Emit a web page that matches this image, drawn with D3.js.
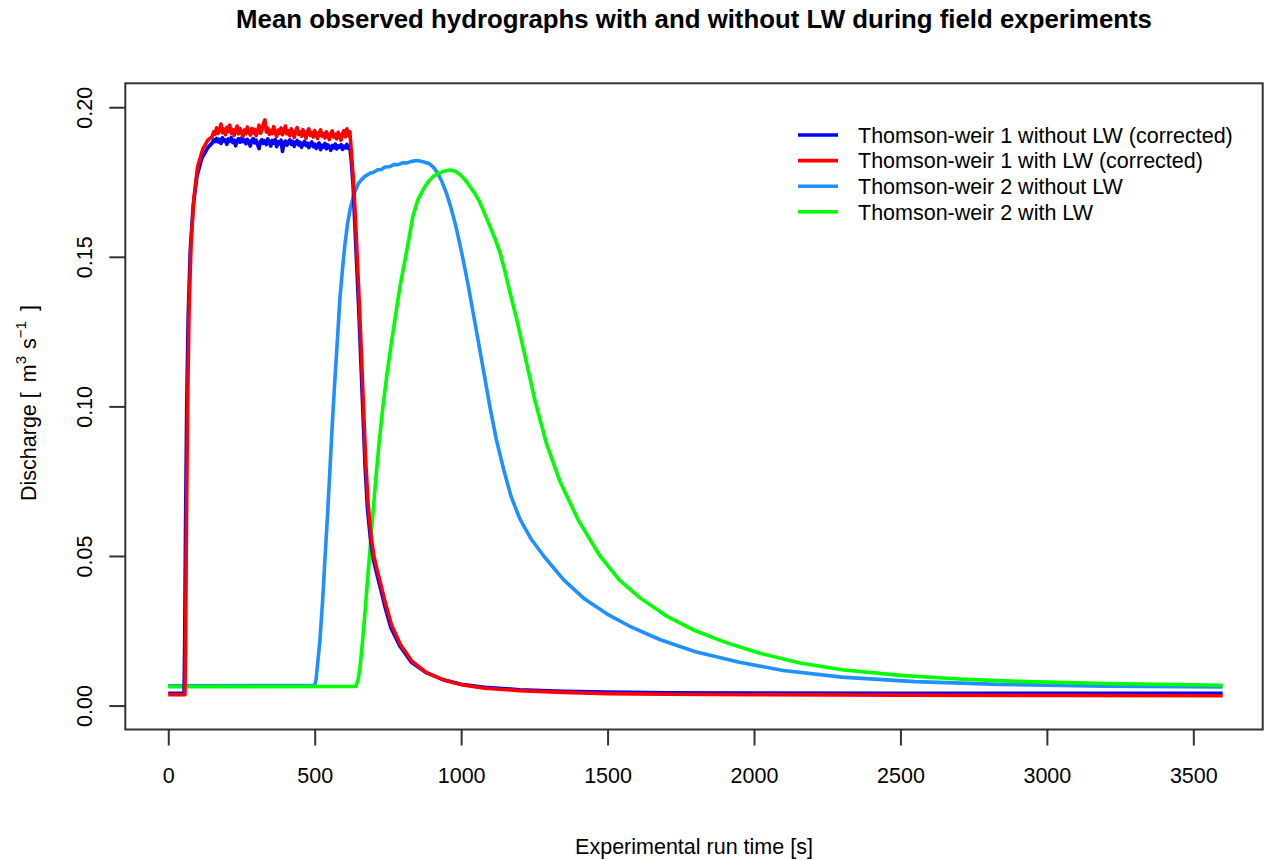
<!DOCTYPE html>
<html><head><meta charset="utf-8">
<script src="https://cdn.jsdelivr.net/npm/d3@7"></script>
<style>
body{margin:0;background:#fff}
svg{display:block}
text{font-family:"Liberation Sans",Arial,Helvetica,sans-serif;fill:#000}
</style>
</head><body>
<svg id="chart" width="1264" height="860"></svg>
<script>
// ---------------- data ----------------
const chartTitle = "Mean observed hydrographs with and without LW during field experiments";
const xAxisTitle = "Experimental run time [s]";
const xTickValues = [0, 500, 1000, 1500, 2000, 2500, 3000, 3500];
const yTickValues = [0.00, 0.05, 0.10, 0.15, 0.20];
const yTickLabels = ["0.00", "0.05", "0.10", "0.15", "0.20"];
const seriesNames = [
  "Thomson-weir 1 without LW (corrected)",
  "Thomson-weir 1 with LW (corrected)",
  "Thomson-weir 2 without LW",
  "Thomson-weir 2 with LW"
];

// [time s, discharge m3/s]
const tw1WithoutLW = [
  [0,0.0041],[54,0.0041],[56,0.020],[59,0.060],[63,0.100],[68,0.130],[75,0.152],[85,0.167],[98,0.177],[115,0.183],[135,0.1865],
  [150,0.1880],[155,0.1892],[160,0.1885],[165,0.1896],[170,0.1884],[175,0.1893],[180,0.1879],[185,0.1898],[190,0.1887],[195,0.1891],
  [200,0.1876],[205,0.1894],[210,0.1886],[215,0.1899],[220,0.1882],[225,0.1890],[230,0.1871],[235,0.1888],[240,0.1895],[245,0.1883],
  [250,0.1897],[255,0.1885],[260,0.1891],[265,0.1878],[270,0.1893],[275,0.1884],[280,0.1870],[285,0.1889],[290,0.1895],[295,0.1881],
  [300,0.1890],[305,0.1874],[310,0.1862],[315,0.1886],[320,0.1892],[325,0.1879],[330,0.1888],[335,0.1875],[340,0.1894],[345,0.1883],
  [350,0.1870],[355,0.1889],[360,0.1880],[365,0.1892],[370,0.1868],[375,0.1885],[380,0.1878],[385,0.1890],[390,0.1852],[395,0.1880],
  [400,0.1887],[405,0.1873],[410,0.1884],[415,0.1891],[420,0.1876],[425,0.1886],[430,0.1869],[435,0.1882],[440,0.1889],[445,0.1874],
  [450,0.1883],[455,0.1866],[460,0.1878],[465,0.1886],[470,0.1872],[475,0.1880],[480,0.1865],[485,0.1879],[490,0.1884],[495,0.1868],
  [500,0.1877],[505,0.1862],[510,0.1875],[515,0.1881],[520,0.1858],[525,0.1873],[530,0.1866],[535,0.1879],[540,0.1861],[545,0.1874],
  [550,0.1869],[555,0.1856],[560,0.1872],[565,0.1864],[570,0.1877],[575,0.1860],[580,0.1871],[585,0.1866],[590,0.1875],[595,0.1859],
  [600,0.1870],[605,0.1864],[610,0.1876],[615,0.1862],[620,0.1868],
  [625,0.182],[631,0.174],[637,0.161],[644,0.146],[651,0.131],[658,0.114],[665,0.097],[672,0.080],[680,0.066],[690,0.056],
  [700,0.049],[712,0.044],[725,0.039],[740,0.033],[760,0.026],[790,0.020],[830,0.0145],[880,0.0110],[940,0.0086],[1000,0.0071],
  [1080,0.0061],[1200,0.0053],[1350,0.0048],[1500,0.0045],[1700,0.0043],[2000,0.0042],[2500,0.0041],[3000,0.0041],[3600,0.0041]
];
const tw1WithLW = [
  [0,0.0036],[57,0.0036],[59,0.020],[62,0.060],[66,0.100],[71,0.132],[78,0.155],[88,0.170],[100,0.180],[118,0.186],[135,0.1890],
  [150,0.1902],[155,0.1918],[160,0.1910],[165,0.1931],[170,0.1912],[175,0.1925],[180,0.1944],[185,0.1915],[190,0.1927],[195,0.1908],
  [200,0.1933],[205,0.1919],[210,0.1940],[215,0.1913],[220,0.1926],[225,0.1906],[230,0.1922],[235,0.1937],[240,0.1911],[245,0.1929],
  [250,0.1916],[255,0.1903],[260,0.1924],[265,0.1912],[270,0.1934],[275,0.1918],[280,0.1907],[285,0.1929],[290,0.1914],[295,0.1926],
  [300,0.1905],[305,0.1921],[310,0.1940],[315,0.1913],[320,0.1925],[325,0.1946],[330,0.1958],[335,0.1917],[340,0.1930],[345,0.1909],
  [350,0.1923],[355,0.1912],[360,0.1935],[365,0.1916],[370,0.1902],[375,0.1924],[380,0.1913],[385,0.1931],[390,0.1908],[395,0.1920],
  [400,0.1937],[405,0.1911],[410,0.1922],[415,0.1905],[420,0.1928],[425,0.1914],[430,0.1899],[435,0.1921],[440,0.1932],[445,0.1909],
  [450,0.1918],[455,0.1903],[460,0.1925],[465,0.1912],[470,0.1896],[475,0.1917],[480,0.1928],[485,0.1906],[490,0.1915],[495,0.1900],
  [500,0.1922],[505,0.1909],[510,0.1895],[515,0.1914],[520,0.1924],[525,0.1903],[530,0.1912],[535,0.1897],[540,0.1918],[545,0.1906],
  [550,0.1892],[555,0.1911],[560,0.1921],[565,0.1900],[570,0.1909],[575,0.1894],[580,0.1916],[585,0.1904],[590,0.1890],[595,0.1912],
  [600,0.1922],[605,0.1901],[610,0.1928],[615,0.1906],[620,0.1918],
  [626,0.184],[632,0.176],[639,0.163],[646,0.148],[653,0.133],[660,0.116],[667,0.099],[674,0.082],[682,0.068],[692,0.057],
  [702,0.050],[714,0.045],[727,0.040],[742,0.034],[762,0.027],[792,0.0205],[832,0.0148],[882,0.0110],[942,0.0085],[1000,0.0070],
  [1080,0.0058],[1200,0.0050],[1350,0.0044],[1500,0.0040],[1700,0.0038],[2000,0.0036],[2500,0.0035],[3000,0.0034],[3600,0.0033]
];
const tw2WithoutLW = [
  [0,0.0066],[500,0.0067],[505,0.009],[510,0.014],[518,0.022],[527,0.035],[535,0.049],[544,0.064],[552,0.079],[560,0.094],
  [569,0.109],[578,0.123],[586,0.136],[595,0.146],[603,0.154],[612,0.161],[621,0.166],[635,0.1712],[649,0.1745],[660,0.1758],
  [670,0.1768],[680,0.1774],[690,0.1780],[700,0.1782],[715,0.1791],[728,0.1792],[740,0.1800],[755,0.1801],[770,0.1808],[785,0.1808],
  [800,0.1814],[815,0.1814],[830,0.1819],[850,0.1822],[870,0.1818],[890,0.1812],[905,0.1800],[920,0.1780],[935,0.1750],[950,0.1712],
  [965,0.1665],[980,0.1610],[995,0.1545],[1010,0.1475],[1025,0.1400],[1041,0.1313],[1060,0.1210],[1080,0.1100],[1098,0.1000],[1120,0.0890],
  [1145,0.0790],[1170,0.0700],[1200,0.0625],[1240,0.0555],[1286,0.0495],[1350,0.0420],[1423,0.0355],[1500,0.0305],[1576,0.0265],[1680,0.0220],
  [1800,0.0180],[1950,0.0145],[2100,0.0117],[2300,0.0095],[2550,0.0080],[2840,0.0071],[3200,0.0065],[3600,0.0062]
];
const tw2WithLW = [
  [0,0.0063],[640,0.0064],[648,0.0085],[655,0.013],[662,0.020],[670,0.029],[678,0.039],[687,0.050],[697,0.062],[708,0.075],
  [720,0.088],[733,0.100],[747,0.111],[760,0.120],[774,0.129],[791,0.140],[815,0.1524],[835,0.1634],[852,0.1690],[870,0.1724],
  [887,0.1750],[904,0.1768],[920,0.1778],[938,0.1785],[962,0.1790],[980,0.1786],[996,0.1775],[1013,0.1758],[1030,0.1735],[1048,0.1710],
  [1065,0.1680],[1082,0.1640],[1099,0.1600],[1116,0.1560],[1133,0.1513],[1150,0.1450],[1167,0.1380],[1190,0.1290],[1220,0.1160],[1252,0.1020],
  [1290,0.0880],[1337,0.0750],[1400,0.0620],[1474,0.0500],[1540,0.0420],[1611,0.0360],[1700,0.0300],[1800,0.0250],[1900,0.0212],[2020,0.0175],
  [2157,0.0142],[2300,0.0120],[2500,0.0101],[2700,0.0089],[2900,0.0081],[3200,0.0074],[3600,0.0068]
];

// ---------------- layout / style ----------------
const seriesData = [tw1WithoutLW, tw1WithLW, tw2WithoutLW, tw2WithLW];
const seriesColors = ["#0000FF", "#FF0000", "#1E90FF", "#00FF00"];
const drawOrder = [2, 3, 0, 1];

const svg = d3.select("#chart");
const plotL = 125.3, plotR = 1262.7, plotT = 83.3, plotB = 729.5;
const x = d3.scaleLinear().domain([-146.7, 3736.9]).range([plotL, plotR]);
const y = d3.scaleLinear().domain([-0.008, 0.208]).range([plotB, plotT]);

const baseFont = 21.5;
const axisColor = "#333";
const lineW = 3.6;

// lines
const line = d3.line().x(d => x(d[0])).y(d => y(d[1])).curve(d3.curveLinear);
drawOrder.forEach(i => {
  svg.append("path")
    .datum(seriesData[i])
    .attr("d", line)
    .attr("fill", "none")
    .attr("stroke", seriesColors[i])
    .attr("stroke-width", lineW)
    .attr("stroke-linejoin", "round")
    .attr("stroke-linecap", "butt");
});

// box
svg.append("rect")
  .attr("x", plotL).attr("y", plotT)
  .attr("width", plotR - plotL).attr("height", plotB - plotT)
  .attr("fill", "none").attr("stroke", axisColor).attr("stroke-width", 2);

// x axis
const xAxis = d3.axisBottom(x).tickValues(xTickValues).tickSize(16).tickPadding(22).tickFormat(d3.format("d"));
const gx = svg.append("g").attr("transform", `translate(0,${plotB})`).call(xAxis);
gx.select(".domain").remove();
gx.selectAll(".tick line").attr("stroke", axisColor).attr("stroke-width", 2);
gx.selectAll(".tick text").attr("font-size", baseFont).attr("font-family", "Liberation Sans, Arial, sans-serif").attr("fill", "#000");

// y axis
const yAxis = d3.axisLeft(y).tickValues(yTickValues).tickSize(16).tickFormat((d, i) => yTickLabels[i]);
const gy = svg.append("g").attr("transform", `translate(${plotL},0)`).call(yAxis);
gy.select(".domain").remove();
gy.selectAll(".tick line").attr("stroke", axisColor).attr("stroke-width", 2);
gy.selectAll(".tick text")
  .attr("font-size", baseFont)
  .attr("font-family", "Liberation Sans, Arial, sans-serif")
  .attr("fill", "#000")
  .attr("x", null).attr("dy", null)
  .attr("text-anchor", "middle")
  .attr("transform", `translate(${91.5 - plotL},0) rotate(-90)`);

// title
svg.append("text")
  .attr("x", (plotL + plotR) / 2).attr("y", 28)
  .attr("text-anchor", "middle")
  .attr("font-size", baseFont * 1.2)
  .attr("font-weight", "bold")
  .text(chartTitle);

// x axis title
svg.append("text")
  .attr("x", (plotL + plotR) / 2).attr("y", 854)
  .attr("text-anchor", "middle")
  .attr("font-size", baseFont)
  .text(xAxisTitle);

// y axis title with superscripts (plotmath-like spacing)
const yt = svg.append("text")
  .attr("transform", `translate(36,403) rotate(-90)`)
  .attr("text-anchor", "middle")
  .attr("font-size", baseFont);
yt.append("tspan").text("Discharge [");
yt.append("tspan").attr("dx", 10).text("m");
yt.append("tspan").attr("font-size", baseFont * 0.7).attr("dy", -10).text("3");
yt.append("tspan").attr("dy", 10).attr("dx", 7).text("s");
yt.append("tspan").attr("font-size", baseFont * 0.7).attr("dy", -10).text("\u22121");
yt.append("tspan").attr("dy", 10).attr("dx", 10).text("]");

// legend
const legend = svg.append("g");
const legY0 = 135, legDy = 25.6;
seriesNames.forEach((name, i) => {
  const ly = legY0 + i * legDy;
  legend.append("line")
    .attr("x1", 798).attr("x2", 838).attr("y1", ly).attr("y2", ly)
    .attr("stroke", seriesColors[i]).attr("stroke-width", lineW);
  legend.append("text")
    .attr("x", 858).attr("y", ly + 7.7)
    .attr("font-size", baseFont)
    .text(name);
});
</script>
</body></html>
